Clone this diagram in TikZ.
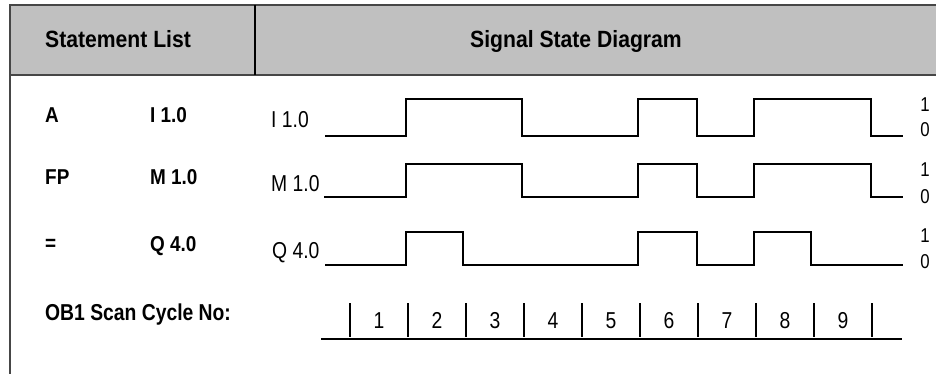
\documentclass[tikz,border=0pt]{standalone}
\usepackage{fontspec}
\setmainfont{Liberation Sans}
\newfontfamily\fHd[FakeStretch=0.9]{Liberation Sans}
\newfontfamily\fNr[FakeStretch=0.84]{Liberation Sans}
\newfontfamily\fSt[FakeStretch=0.88]{Liberation Sans}
\definecolor{hdrgray}{RGB}{192,192,192}
\definecolor{linegray}{RGB}{70,70,70}
\begin{document}
\begin{tikzpicture}[x=1pt,y=-1pt,
  hdr/.style={anchor=base west,inner sep=0pt,font=\fHd\bfseries\fontsize{23.5}{24}\selectfont},
  stmt/.style={anchor=base west,inner sep=0pt,font=\fSt\bfseries\fontsize{21.5}{22}\selectfont},
  obtxt/.style={anchor=base west,inner sep=0pt,font=\fNr\bfseries\fontsize{23}{24}\selectfont},
  siglbl/.style={anchor=base west,inner sep=0pt,font=\fNr\fontsize{23}{24}\selectfont},
  lvl/.style={anchor=base,inner sep=0pt,font=\fNr\fontsize{20}{21}\selectfont},
  cyc/.style={anchor=base,inner sep=0pt,font=\fNr\fontsize{23}{24}\selectfont},
  sig/.style={line width=1.6pt,line join=miter},
  frame/.style={line width=1.8pt,draw=linegray}]
\useasboundingbox (0,0) rectangle (936,374);
% header
\fill[hdrgray] (10,5) rectangle (936,75);
\draw[frame] (936,5) -- (10,5) -- (10,374);
\draw[frame] (10,75) -- (936,75);
\draw[line width=1.8pt,black] (255,5) -- (255,75);
\node[hdr] (hSL) at (45,48) {Statement List};
\node[hdr] (hSSD) at (470,48) {Signal State Diagram};
% statement list
\node[stmt] (sA) at (45,123) {A};
\node[stmt] (sI) at (150,123) {I 1.0};
\node[stmt] (sFP) at (45,185) {FP};
\node[stmt] (sM) at (150,185) {M 1.0};
\node[stmt] (sEq) at (45,250) {=};
\node[stmt] (sQ) at (150,251) {Q 4.0};
\node[obtxt] (sOB) at (45,320) {OB1 Scan Cycle No:};
% signal labels
\node[siglbl] (lI) at (271,128) {I 1.0};
\node[siglbl] (lM) at (271,192) {M 1.0};
\node[siglbl] (lQ) at (272,258) {Q 4.0};
% signals
\draw[sig] (325,136) -- (406,136) -- (406,99) -- (522,99) -- (522,136) -- (638,136) -- (638,99) -- (697,99) -- (697,136) -- (754,136) -- (754,99) -- (871,99) -- (871,136) -- (903,136);
\draw[sig] (324,197) -- (406,197) -- (406,164) -- (522,164) -- (522,197) -- (638,197) -- (638,164) -- (697,164) -- (697,197) -- (754,197) -- (754,164) -- (871,164) -- (871,197) -- (903,197);
\draw[sig] (325,265) -- (406,265) -- (406,232) -- (463,232) -- (463,265) -- (638,265) -- (638,232) -- (697,232) -- (697,265) -- (754,265) -- (754,232) -- (811,232) -- (811,265) -- (903,265);
% level labels
\node[lvl] (i1) at (925,112) {1};
\node[lvl] (i0) at (925,137) {0};
\node[lvl] (m1) at (925,177) {1};
\node[lvl] (m0) at (925,203) {0};
\node[lvl] (q1) at (925,242) {1};
\node[lvl] (q0) at (925,268) {0};
% scan cycles
\draw[sig] (321,339) -- (902,339);
\foreach \k in {0,...,9} {
  \draw[sig] ({350+58*\k},303) -- ({350+58*\k},337);
}
\foreach \k in {1,...,9} {
  \node[cyc] (c\k) at ({350+58*\k-29},328) {\k};
}
\end{tikzpicture}
\end{document}
